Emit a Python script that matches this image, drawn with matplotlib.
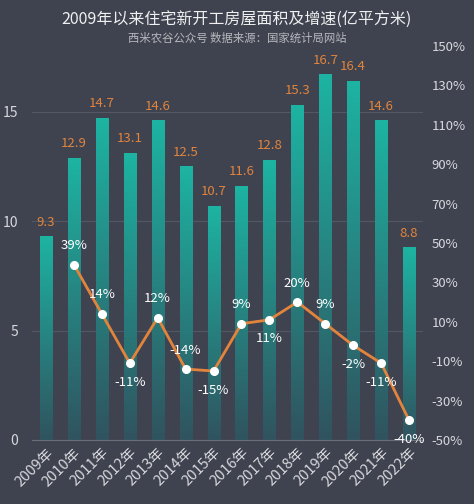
import numpy as np
import matplotlib.pyplot as plt
from matplotlib.colors import LinearSegmentedColormap

plt.rcParams['font.family'] = ['Noto Sans CJK SC', 'DejaVu Sans']

# 数据
years = ['2009年', '2010年', '2011年', '2012年', '2013年', '2014年', '2015年',
         '2016年', '2017年', '2018年', '2019年', '2020年', '2021年', '2022年']
area = [9.3, 12.9, 14.7, 13.1, 14.6, 12.5, 10.7, 11.6, 12.8, 15.3, 16.7, 16.4, 14.6, 8.8]
growth = [None, 39, 14, -11, 12, -14, -15, 9, 11, 20, 9, -2, -11, -40]
# 增速标签位置: 1 上方, -1 下方
label_side = [0, 1, 1, -1, 1, 1, -1, 1, -1, 1, 1, -1, -1, -1]

bg = '#3f4350'
txt = '#d8d8dc'
orange = '#e2843c'

fig = plt.figure(figsize=(4.74, 5.04), dpi=100, facecolor=bg)
ax = fig.add_axes([0.0675, 0.127, 0.825, 0.782], facecolor=bg)
ax2 = ax.twinx()

x = np.arange(len(years))

# 渐变柱
cmap = LinearSegmentedColormap.from_list('g', ['#30535f', '#1db4a2'])
grad = np.linspace(0, 1, 256).reshape(-1, 1)
bars = ax.bar(x, area, width=0.43, color='none', zorder=2)
for b, v in zip(bars, area):
    im = ax.imshow(grad, cmap=cmap, aspect='auto', origin='lower',
                   extent=(b.get_x(), b.get_x() + b.get_width(), 0, v), zorder=2)
    im.set_clip_path(b)
    ax.text(b.get_x() + b.get_width() / 2, v + 0.35, f'{v}', ha='center', va='bottom',
            color=orange, fontsize=9.5)
ax.set_xlim(-0.5, 13.5)
ax.set_ylim(0, 18)

ax.set_yticks([0, 5, 10, 15])
ax.grid(axis='y', color='#535763', lw=0.8)
ax.set_axisbelow(True)
ax.set_xticks(x)
ax.set_xticklabels(years, rotation=45, ha='right', rotation_mode='anchor')
ax.tick_params(colors=txt, labelsize=10, length=0)
ax.tick_params(axis='x', labelsize=10.5, pad=4)
ax.tick_params(axis='y', pad=10)
for s in ['top', 'right', 'left']:
    ax.spines[s].set_visible(False)
    ax2.spines[s].set_visible(False)
ax.spines['bottom'].set_color('#6a6e7a')
ax2.spines['bottom'].set_visible(False)

# 增速折线
gx = [i for i, g in enumerate(growth) if g is not None]
gy = [g for g in growth if g is not None]
ax2.set_ylim(-50, 150)
ax2.plot(gx, gy, color=orange, lw=2, marker='o', ms=5.5, mfc='white', mec='white', zorder=4)
for i in gx:
    side = label_side[i]
    ax2.annotate(f'{growth[i]}%', (i, growth[i]), xytext=(0, 9 * side),
                 textcoords='offset points', ha='center',
                 va='bottom' if side > 0 else 'top', color='white', fontsize=9.5, zorder=5)
ax2.set_yticks(range(-50, 151, 20))
ax2.set_yticklabels([f'{t}%' for t in range(-50, 151, 20)])
ax2.tick_params(colors=txt, labelsize=9.5, length=0, pad=6)

fig.text(0.5, 0.96, '2009年以来住宅新开工房屋面积及增速(亿平方米)', ha='center', va='center',
         color='#f0f0f0', fontsize=11.5)
fig.text(0.5, 0.924, '西米农谷公众号 数据来源：国家统计局网站', ha='center', va='center',
         color='#b8b8bc', fontsize=8.2)

fig.savefig('out.png', dpi=100, facecolor=bg)
